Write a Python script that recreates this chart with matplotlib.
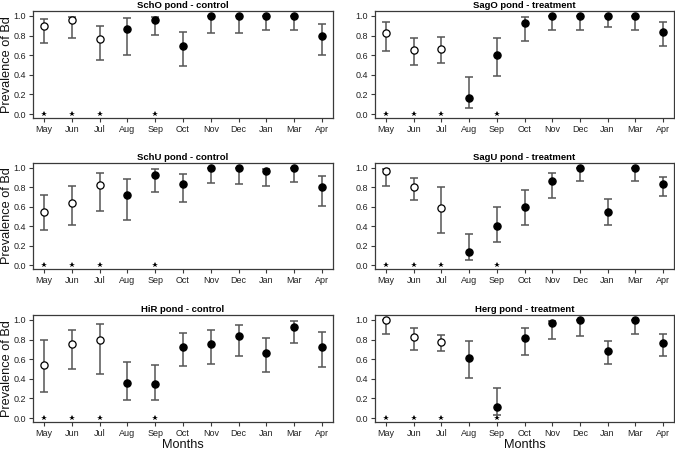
import matplotlib
matplotlib.use("Agg")
import matplotlib.pyplot as plt
import numpy as np

plt.rcParams['font.family'] = ['Liberation Sans', 'DejaVu Sans']

months = ["May", "Jun", "Jul", "Aug", "Sep", "Oct", "Nov", "Dec", "Jan", "Mar", "Apr"]
n_open = 3  # first three months drawn as open circles
star_months = ["May", "Jun", "Jul", "Sep"]

titles = ["SchO pond - control", "SagO pond - treatment",
          "SchU pond - control", "SagU pond - treatment",
          "HiR pond - control", "Herg pond - treatment"]

scho_mean = [0.90, 0.96, 0.76, 0.87, 0.96, 0.69, 1.00, 1.00, 1.00, 1.00, 0.80]
scho_up   = [0.97, 0.99, 0.90, 0.975, 0.99, 0.84, 1.00, 1.00, 1.00, 1.00, 0.915]
scho_lo   = [0.72, 0.78, 0.55, 0.605, 0.805, 0.49, 0.83, 0.83, 0.86, 0.86, 0.60]

sago_mean = [0.83, 0.65, 0.665, 0.167, 0.60, 0.925, 1.00, 1.00, 1.00, 1.00, 0.84]
sago_up   = [0.935, 0.77, 0.79, 0.38, 0.78, 0.985, 1.00, 1.00, 1.00, 1.00, 0.935]
sago_lo   = [0.645, 0.505, 0.52, 0.058, 0.39, 0.74, 0.86, 0.86, 0.89, 0.86, 0.69]

schu_mean = [0.546, 0.635, 0.823, 0.72, 0.928, 0.833, 1.00, 1.00, 0.97, 1.00, 0.80]
schu_up   = [0.72, 0.816, 0.952, 0.89, 0.986, 0.935, 1.00, 1.00, 0.99, 1.00, 0.915]
schu_lo   = [0.365, 0.41, 0.56, 0.464, 0.75, 0.645, 0.84, 0.833, 0.81, 0.857, 0.61]

sagu_mean = [0.966, 0.805, 0.587, 0.133, 0.40, 0.597, 0.867, 1.00, 0.55, 1.00, 0.833]
sagu_up   = [0.99, 0.90, 0.80, 0.317, 0.594, 0.768, 0.952, 1.00, 0.676, 1.00, 0.91]
sagu_lo   = [0.81, 0.67, 0.335, 0.048, 0.235, 0.41, 0.686, 0.86, 0.416, 0.86, 0.71]

hir_mean = [0.54, 0.75, 0.80, 0.362, 0.345, 0.72, 0.758, 0.84, 0.662, 0.932, 0.727]
hir_up   = [0.795, 0.90, 0.962, 0.573, 0.54, 0.864, 0.898, 0.95, 0.816, 0.986, 0.874]
hir_lo   = [0.263, 0.505, 0.444, 0.188, 0.188, 0.526, 0.546, 0.63, 0.474, 0.765, 0.52]

herg_mean = [1.00, 0.83, 0.78, 0.614, 0.116, 0.816, 0.966, 1.00, 0.68, 1.00, 0.76]
herg_up   = [1.00, 0.915, 0.85, 0.788, 0.31, 0.92, 0.99, 1.00, 0.788, 1.00, 0.857]
herg_lo   = [0.857, 0.696, 0.686, 0.406, 0.034, 0.642, 0.805, 0.833, 0.55, 0.857, 0.635]

panels = [
    (scho_mean, scho_up, scho_lo),
    (sago_mean, sago_up, sago_lo),
    (schu_mean, schu_up, schu_lo),
    (sagu_mean, sagu_up, sagu_lo),
    (hir_mean, hir_up, hir_lo),
    (herg_mean, herg_up, herg_lo),
]

W, H = 675, 451
fig = plt.figure(figsize=(W / 100, H / 100), dpi=100)

col_x = [(33, 333), (375, 674)]
row_y = [(11, 118), (163, 269), (315, 422)]

frame_col = "#3a3a3a"
err_col = "#555555"

for i, (mean, up, lo) in enumerate(panels):
    r, c = divmod(i, 2)
    x0, x1 = col_x[c]
    yt, yb = row_y[r]
    ax = fig.add_axes([x0 / W, 1 - yb / H, (x1 - x0) / W, (yb - yt) / H])
    x = np.arange(1, len(months) + 1)
    mean = np.array(mean); up = np.array(up); lo = np.array(lo)
    ax.errorbar(x, mean, yerr=[mean - lo, up - mean], fmt='none',
                ecolor=err_col, elinewidth=1.1, capsize=3.0, capthick=1.1, zorder=2)
    ax.plot(x[:n_open], mean[:n_open], 'o', ms=5.2, mfc='white', mec='black',
            mew=0.9, zorder=3)
    ax.plot(x[n_open:], mean[n_open:], 'o', ms=5.2, mfc='black', mec='black',
            mew=0.9, zorder=3)
    sx = [months.index(m) + 1 for m in star_months]
    ax.plot(sx, np.zeros(len(sx)), marker='*', ls='none', ms=4, color='black',
            mew=0, zorder=3)
    ax.set_xlim(0.6, 11.4)
    ax.set_ylim(-0.04, 1.05)
    ax.set_xticks(x)
    ax.set_xticklabels(months)
    ax.set_yticks([0, 0.2, 0.4, 0.6, 0.8, 1.0])
    ax.set_yticklabels(["0.0", "0.2", "0.4", "0.6", "0.8", "1.0"])
    ax.tick_params(axis='both', labelsize=6.5, length=3, width=0.8,
                   color=frame_col, labelcolor='#222222', pad=2)
    for s in ax.spines.values():
        s.set_color(frame_col)
        s.set_linewidth(0.9)
    ax.set_title(titles[i], fontsize=6.8, fontweight='bold', pad=2.5)
    if c == 0:
        yc = (yt + yb) / 2
        fig.text(1.0 / W, 1 - yc / H, "Prevalence of Bd", rotation=90,
                 ha='left', va='center', fontsize=9.2, color='#111111')
    if r == 2:
        xc = (x0 + x1) / 2
        fig.text(xc / W, 1 - 445 / H, "Months", ha='center', va='center',
                 fontsize=9.2, color='#111111')

fig.savefig("out.png", dpi=100)
